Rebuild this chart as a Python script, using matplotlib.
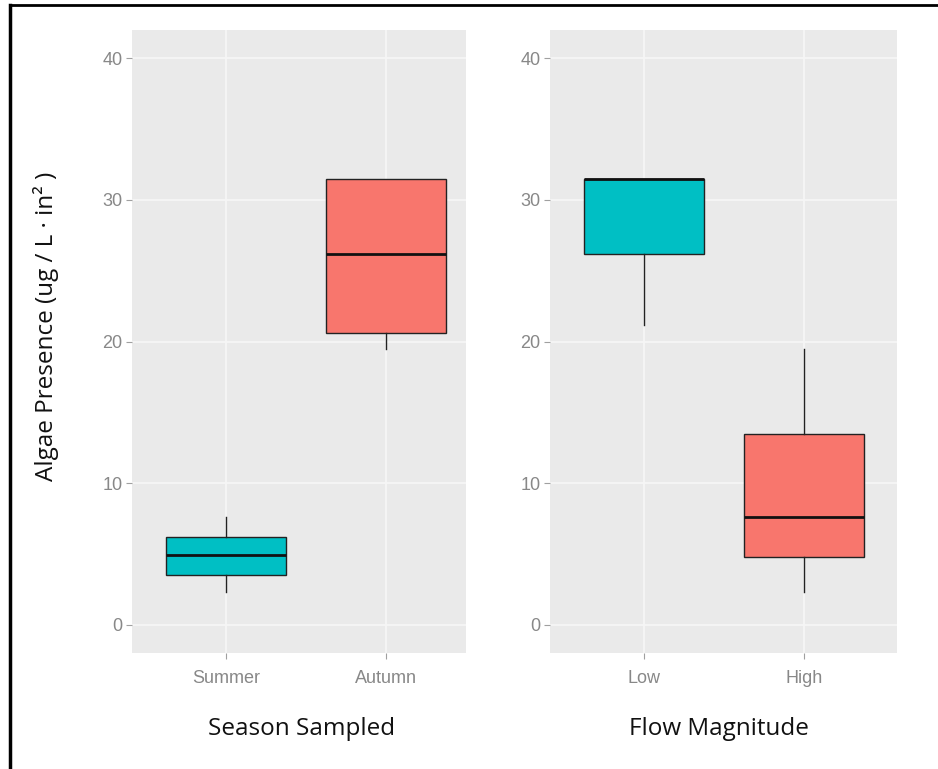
import matplotlib
matplotlib.use("Agg")
from matplotlib import pyplot as plt
from matplotlib.lines import Line2D

# --- data ---
season_cats = ["Summer", "Autumn"]
season_whislo = [2.3, 19.5]
season_q1 = [3.5, 20.6]
season_med = [4.9, 26.2]
season_q3 = [6.2, 31.5]
season_whishi = [7.6, 31.5]

flow_cats = ["Low", "High"]
flow_whislo = [21.2, 2.3]
flow_q1 = [26.2, 4.8]
flow_med = [31.5, 7.6]
flow_q3 = [31.5, 13.5]
flow_whishi = [31.5, 19.5]

box_colors = ["#00BFC4", "#F8766D"]
y_ticks = [0, 10, 20, 30, 40]


def make_stats(cats, lo, q1, med, q3, hi):
    stats = []
    for i in range(len(cats)):
        stats.append(dict(label=cats[i], whislo=lo[i], q1=q1[i], med=med[i],
                          q3=q3[i], whishi=hi[i], fliers=[]))
    return stats


def draw_panel(ax, stats, xlim):
    ax.set_facecolor("#EAEAEA")
    for s in ax.spines.values():
        s.set_visible(False)
    ax.set_axisbelow(True)
    ax.grid(True, color="#F6F6F6", linewidth=1.3)
    bp = ax.bxp(stats, positions=[1, 2], widths=0.75, patch_artist=True,
                showcaps=False, showfliers=False,
                boxprops=dict(edgecolor="#222222", linewidth=1.0),
                whiskerprops=dict(color="#222222", linewidth=1.0),
                medianprops=dict(color="#111111", linewidth=2.0))
    for patch, c in zip(bp["boxes"], box_colors):
        patch.set_facecolor(c)
    ax.set_xlim(*xlim)
    ax.set_ylim(-2, 42)
    ax.set_yticks(y_ticks)
    ax.tick_params(axis="both", colors="#A0A0A0", labelcolor="#888888",
                   length=4, width=0.8, labelsize=13, pad=3)
    for lab in ax.get_xticklabels() + ax.get_yticklabels():
        lab.set_family("Liberation Sans")
    ax.tick_params(axis="x", pad=8)


fig = plt.figure(figsize=(9.38, 7.69), dpi=100)

ax1 = fig.add_axes([132 / 938, 1 - 653 / 769, 334 / 938, 623 / 769])
draw_panel(ax1, make_stats(season_cats, season_whislo, season_q1, season_med,
                           season_q3, season_whishi), (0.41, 2.5))

ax2 = fig.add_axes([550 / 938, 1 - 653 / 769, 347 / 938, 623 / 769])
draw_panel(ax2, make_stats(flow_cats, flow_whislo, flow_q1, flow_med,
                           flow_q3, flow_whishi), (0.41, 2.58))

fig.text(302 / 938, 1 - 729 / 769, "Season Sampled", ha="center", va="center",
         fontsize=17.5, family="Open Sans", color="#111111")
fig.text(719 / 938, 1 - 729 / 769, "Flow Magnitude", ha="center", va="center",
         fontsize=17.5, family="Open Sans", color="#111111")
fig.text(46 / 938, 1 - 326 / 769, "Algae Presence (ug / L \u00b7 in\u00b2 )",
         ha="center", va="center", rotation=90, fontsize=17.5,
         family="Open Sans", color="#111111")

# outer frame (top and left edges visible in the reference)
fig.add_artist(Line2D([10 / 938, 1], [1 - 5 / 769, 1 - 5 / 769],
                      transform=fig.transFigure, color="black", linewidth=2))
fig.add_artist(Line2D([10 / 938, 10 / 938], [0, 1 - 5 / 769],
                      transform=fig.transFigure, color="black", linewidth=2.5))

plt.savefig("out.png", dpi=100)
